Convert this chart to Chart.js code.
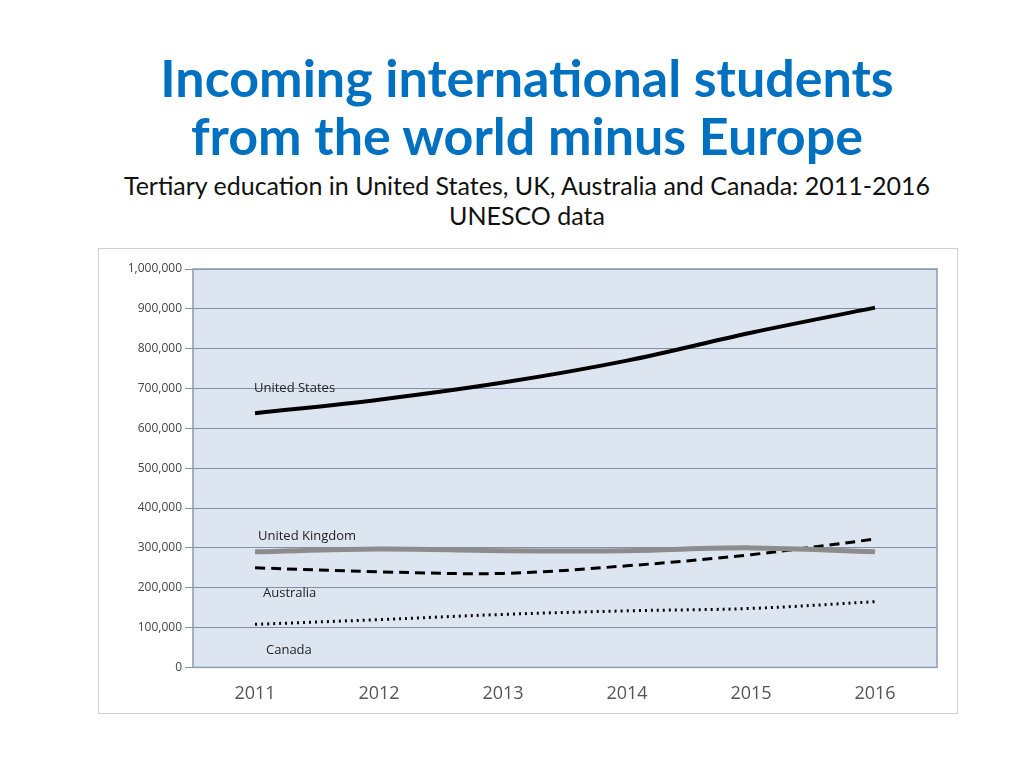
<!DOCTYPE html>
<html><head><meta charset="utf-8">
<script src="https://cdn.jsdelivr.net/npm/chart.js@4"></script>
<style>
body{margin:0;width:1024px;height:768px;background:#fff;font-family:Lato,"Open Sans",sans-serif;position:relative;overflow:hidden}
#t{position:absolute;top:48px;left:0;width:1054px;text-align:center;color:#0070C0;font-weight:bold;font-size:52px;line-height:58px}
#s{position:absolute;top:170px;left:0;width:1054px;text-align:center;color:#111;font-size:25px;line-height:30px}
#box{position:absolute;left:98px;top:248px;width:858px;height:464px;border:1px solid #d0d0d0;background:#fff}
</style></head><body>
<div id="t">Incoming international students<br>from the world minus Europe</div>
<div id="s">Tertiary education in United States, UK, Australia and Canada: 2011-2016<br>UNESCO data</div>
<div id="box"><canvas id="c" width="858" height="464"></canvas></div>
<script>
const years=["2011","2012","2013","2014","2015","2016"];
const us=[638000,672000,715000,770000,840000,903000];
const uk=[290000,297000,293000,293000,300000,290000];
const au=[250000,240000,236000,255000,283000,322000];
const ca=[108000,120000,133000,142000,148000,165000];
const labels=[["United States",700000,-2],["United Kingdom",330000,2],["Australia",187000,7],["Canada",42000,10]];
const bg={id:'bg',beforeDraw(c){const a=c.chartArea,x=c.ctx;x.save();x.fillStyle='#dde6f0';x.fillRect(a.left,a.top,a.right-a.left,a.bottom-a.top);x.restore();},
afterDatasetsDraw(c){const x=c.ctx,xs=c.scales.x,ys=c.scales.y;x.save();x.font='13px "Open Sans",sans-serif';x.fillStyle='#222';x.textBaseline='middle';
labels.forEach(l=>x.fillText(l[0],xs.getPixelForValue(0)+1+l[2],ys.getPixelForValue(l[1])));
x.strokeStyle='#8a9bb0';x.lineWidth=1.5;x.strokeRect(c.chartArea.left,c.chartArea.top,c.chartArea.width,c.chartArea.height);x.restore();}};
new Chart(document.getElementById('c'),{type:'line',
data:{labels:years,datasets:[
{data:us,borderColor:'#000',borderWidth:4},
{data:uk,borderColor:'#8c8c8c',borderWidth:5},
{data:au,borderColor:'#000',borderWidth:3,borderDash:[10,6]},
{data:ca,borderColor:'#000',borderWidth:3,borderDash:[2,4]}]},
options:{responsive:false,animation:false,tension:0.35,
elements:{point:{radius:0}},
layout:{padding:{left:0,right:20,top:20,bottom:0}},
plugins:{legend:{display:false},tooltip:{enabled:false}},
scales:{
x:{offset:true,grid:{display:false},border:{display:false},ticks:{color:'#555',font:{size:18,family:'"Open Sans",sans-serif'},padding:8}},
y:{min:0,max:1000000,afterFit(s){s.width=94},border:{display:false},grid:{color:'#8090a6',lineWidth:1},
ticks:{stepSize:100000,color:'#444',font:{size:12,family:'"Open Sans",sans-serif'},callback:v=>v.toLocaleString('en-US')}}}},
plugins:[bg]});
</script></body></html>
